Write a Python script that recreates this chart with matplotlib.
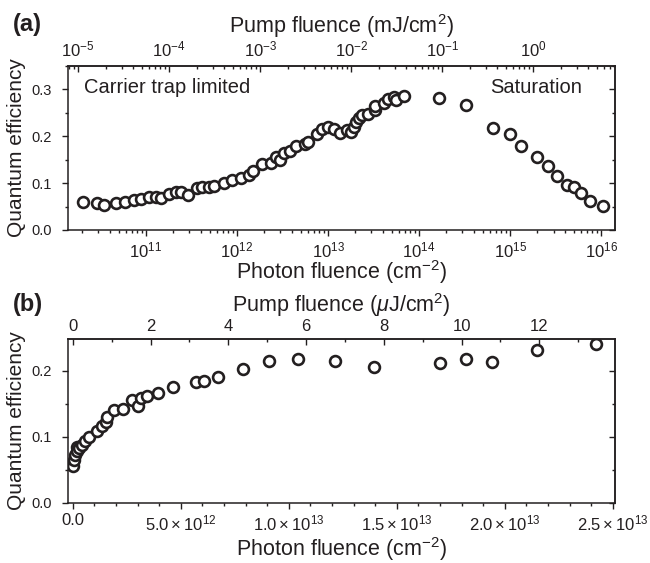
"""Quantum efficiency versus photon / pump fluence, log (a) and linear (b) views."""

import matplotlib

matplotlib.use("Agg")
import matplotlib.pyplot as plt
import numpy as np
from matplotlib.ticker import FuncFormatter, MultipleLocator

# photons per mJ at the pump wavelength
PHOTONS_PER_MJ = 1.80e15

# panel (a): photon fluence (cm^-2), quantum efficiency
FLUENCE_A = [
    2.04e10, 2.88e10, 3.47e10, 4.68e10, 5.89e10, 7.41e10, 8.91e10, 1.07e11,
    1.29e11, 1.45e11, 1.78e11, 2.14e11, 2.45e11, 2.88e11, 3.63e11, 4.17e11,
    4.90e11, 5.62e11, 7.24e11, 8.91e11, 1.10e12, 1.35e12, 1.51e12, 1.86e12,
    2.34e12, 2.69e12, 2.95e12, 3.31e12, 3.80e12, 4.47e12, 5.62e12, 6.03e12,
    7.59e12, 8.51e12, 1.00e13, 1.17e13, 1.35e13, 1.62e13, 1.78e13, 1.91e13,
    2.04e13, 2.19e13, 2.34e13, 2.75e13, 3.24e13, 3.31e13, 4.07e13, 4.57e13,
    5.25e13, 5.62e13, 6.76e13, 1.66e14, 3.24e14, 6.46e14, 1.00e15, 1.32e15,
    2.00e15, 2.63e15, 3.31e15, 4.27e15, 5.01e15, 6.03e15, 7.59e15, 1.05e16,
]
QE_A = [
    0.059, 0.057, 0.054, 0.057, 0.060, 0.064, 0.067, 0.070,
    0.071, 0.069, 0.077, 0.080, 0.082, 0.074, 0.089, 0.091,
    0.092, 0.094, 0.101, 0.106, 0.110, 0.117, 0.126, 0.140,
    0.143, 0.156, 0.149, 0.165, 0.169, 0.179, 0.184, 0.188,
    0.204, 0.215, 0.219, 0.216, 0.207, 0.214, 0.209, 0.220,
    0.230, 0.238, 0.245, 0.248, 0.255, 0.264, 0.270, 0.280,
    0.284, 0.278, 0.286, 0.282, 0.267, 0.218, 0.204, 0.179,
    0.155, 0.137, 0.115, 0.096, 0.091, 0.079, 0.062, 0.052,
]

# panel (b): photon fluence in units of 1e12 cm^-2, quantum efficiency
FLUENCE_B = [
    0.03, 0.06, 0.10, 0.18, 0.21, 0.30, 0.41, 0.57, 0.77, 1.10, 1.34, 1.54,
    1.60, 1.90, 2.34, 2.72, 3.03, 3.18, 3.44, 3.95, 4.62, 5.72, 6.06, 6.72,
    7.88, 9.08, 10.45, 12.14, 13.95, 17.0, 18.2, 19.4, 21.5, 24.2,
]
QE_B = [
    0.0565, 0.065, 0.073, 0.085, 0.078, 0.083, 0.088, 0.093, 0.100, 0.109,
    0.116, 0.123, 0.130, 0.140, 0.142, 0.156, 0.147, 0.159, 0.162, 0.167,
    0.176, 0.183, 0.185, 0.190, 0.203, 0.214, 0.217, 0.215, 0.206, 0.211,
    0.218, 0.213, 0.232, 0.241,
]

INK = "#231f20"


def sci_label(v, pos):
    if v < 0:
        return ""
    if v < 1:
        return "0.0"
    e = int(np.floor(np.log10(v)))
    return rf"${v / 10**e:.1f}\times10^{{{e}}}$"


def style(ax, sec_top, sec_right):
    for s in ax.spines.values():
        s.set_linewidth(1.1)
        s.set_color(INK)
    ax.tick_params(which="both", direction="out", colors=INK, width=1.0,
                   top=False, right=False)
    ax.tick_params(which="major", length=4.5)
    ax.tick_params(which="minor", length=2.5)
    ax.tick_params(axis="x", pad=3, labelsize=12)
    ax.tick_params(axis="y", pad=7, labelsize=10.5)
    for sec in (sec_top, sec_right):
        for s in sec.spines.values():
            s.set_linewidth(1.1)
            s.set_color(INK)
        sec.tick_params(which="both", direction="in", colors=INK, width=1.0,
                        labelsize=12)
        sec.tick_params(which="major", length=4.5)
        sec.tick_params(which="minor", length=2.5)
    sec_right.tick_params(labelright=False)
    sec_right.yaxis.set_major_locator(MultipleLocator(0.1))
    sec_right.yaxis.set_minor_locator(MultipleLocator(0.05))
    ax.yaxis.set_major_locator(MultipleLocator(0.1))
    ax.yaxis.set_minor_locator(MultipleLocator(0.05))
    ax.yaxis.set_label_coords(-0.077, 0.5)


def main():
    plt.rcParams.update({
        "font.family": ["Liberation Sans", "DejaVu Sans"],
        "mathtext.fontset": "custom",
        "mathtext.rm": "Liberation Sans",
        "mathtext.it": "Liberation Sans:italic",
        "mathtext.bf": "Liberation Sans:bold",
        "text.color": INK,
        "axes.labelcolor": INK,
    })
    fig = plt.figure(figsize=(6.5, 5.63), dpi=100)
    ax1 = fig.add_axes([0.1046, 0.5915, 0.8415, 0.2913])
    ax2 = fig.add_axes([0.1046, 0.1066, 0.8415, 0.2913])

    marker = dict(ls="none", marker="o", ms=7.8, mfc="white", mec=INK, mew=1.9)

    # (a) log view
    ax1.plot(FLUENCE_A, QE_A, **marker)
    ax1.set_xscale("log")
    ax1.set_xlim(1.39e10, 1.42e16)
    ax1.set_ylim(0, 0.35)
    top1 = ax1.secondary_xaxis(
        "top", functions=(lambda x: x / PHOTONS_PER_MJ, lambda x: x * PHOTONS_PER_MJ)
    )
    right1 = ax1.secondary_yaxis("right")
    style(ax1, top1, right1)
    top1.tick_params(pad=5)
    ax1.set_xlabel("Photon fluence (cm$^{-2}$)", fontsize=15.5)
    ax1.xaxis.set_label_coords(0.5, -0.17)
    ax1.set_ylabel("Quantum efficiency", fontsize=15)
    top1.set_xlabel("Pump fluence (mJ/cm$^{2}$)", fontsize=15.5)
    top1.xaxis.set_label_coords(0.5, 1.20, transform=ax1.transAxes)
    ax1.text(0.03, 0.87, "Carrier trap limited", transform=ax1.transAxes,
             fontsize=14.5, va="center")
    ax1.text(0.94, 0.87, "Saturation", transform=ax1.transAxes,
             fontsize=14.5, va="center", ha="right")

    # (b) linear view
    ax2.plot(np.array(FLUENCE_B) * 1e12, QE_B, **marker)
    ax2.set_xlim(-2.2e11, 2.51e13)
    ax2.set_ylim(0, 0.248)
    ax2.xaxis.set_major_locator(MultipleLocator(5e12))
    ax2.xaxis.set_minor_locator(MultipleLocator(1e12))
    ax2.xaxis.set_major_formatter(FuncFormatter(sci_label))
    top2 = ax2.secondary_xaxis(
        "top",
        functions=(lambda x: x / (PHOTONS_PER_MJ * 1e-3),
                   lambda x: x * PHOTONS_PER_MJ * 1e-3),
    )
    top2.xaxis.set_major_locator(MultipleLocator(2))
    top2.xaxis.set_minor_locator(MultipleLocator(1))
    right2 = ax2.secondary_yaxis("right")
    style(ax2, top2, right2)
    top2.tick_params(pad=3.5)
    ax2.set_xlabel("Photon fluence (cm$^{-2}$)", fontsize=15.5)
    ax2.xaxis.set_label_coords(0.5, -0.195)
    ax2.set_ylabel("Quantum efficiency", fontsize=15)
    top2.set_xlabel(r"Pump fluence ($\mu$J/cm$^{2}$)", fontsize=15.5)
    top2.xaxis.set_label_coords(0.5, 1.165, transform=ax2.transAxes)

    fig.text(0.02, 0.957, "(a)", fontsize=17, fontweight="bold", va="center")
    fig.text(0.02, 0.46, "(b)", fontsize=17, fontweight="bold", va="center")

    fig.savefig("out.png", dpi=100, facecolor="white")
    plt.close(fig)


if __name__ == "__main__":
    main()
